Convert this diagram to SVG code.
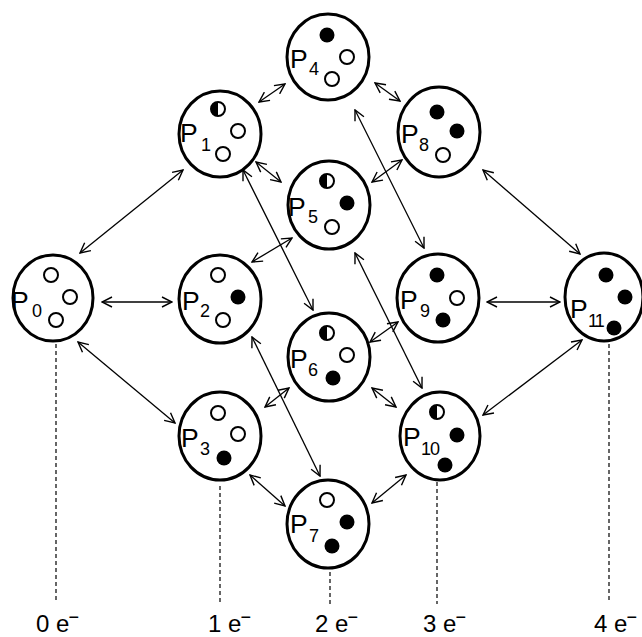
<svg xmlns="http://www.w3.org/2000/svg" width="642" height="637" viewBox="0 0 642 637">
<style>
.node{fill:#fff;stroke:#000;stroke-width:3}
.o{fill:#fff;stroke:#000;stroke-width:2}
.f{fill:#000}
.h{fill:#000}
.p{font-family:"Liberation Sans",Arial,sans-serif;font-size:26.5px;fill:#000}
.s{font-family:"Liberation Sans",Arial,sans-serif;font-size:18px;fill:#000}
.lbl{font-family:"Liberation Sans",Arial,sans-serif;font-size:24px;fill:#000}
.c line{stroke:#000;stroke-width:1.3;marker-start:url(#ah);marker-end:url(#ah)}
.d line{stroke:#000;stroke-width:1.2;stroke-dasharray:4 3}
</style>
<defs>
<marker id="ah" viewBox="0 0 12 12" refX="11" refY="6" markerUnits="userSpaceOnUse" markerWidth="12" markerHeight="12" orient="auto-start-reverse">
<path d="M1,1 L11,6 L1,11" fill="none" stroke="#000" stroke-width="1.4"/>
</marker>
</defs>
<rect width="642" height="637" fill="#fff"/>
<g id="connectors" class="c">
<line x1="80" y1="253" x2="183" y2="170"/>
<line x1="102" y1="302" x2="172" y2="302"/>
<line x1="78" y1="342" x2="175" y2="423"/>
<line x1="259" y1="102" x2="285" y2="84"/>
<line x1="256" y1="162" x2="281" y2="182"/>
<line x1="243" y1="170" x2="313" y2="310"/>
<line x1="252" y1="262" x2="292" y2="238"/>
<line x1="252" y1="337" x2="320" y2="476"/>
<line x1="265" y1="407" x2="289" y2="388"/>
<line x1="250" y1="475" x2="285" y2="506"/>
<line x1="375" y1="83" x2="400" y2="101"/>
<line x1="355" y1="110" x2="424" y2="248"/>
<line x1="372" y1="182" x2="402" y2="160"/>
<line x1="355" y1="253" x2="422" y2="388"/>
<line x1="370" y1="342" x2="398" y2="322"/>
<line x1="372" y1="388" x2="396" y2="407"/>
<line x1="372" y1="503" x2="406" y2="475"/>
<line x1="483" y1="170" x2="580" y2="254"/>
<line x1="487" y1="302" x2="560" y2="302"/>
<line x1="483" y1="415" x2="582" y2="340"/>
</g>
<g id="guides" class="d">
<line x1="56" y1="344" x2="56" y2="602"/>
<line x1="220" y1="486" x2="220" y2="604"/>
<line x1="330" y1="572" x2="330" y2="604"/>
<line x1="437" y1="482" x2="437" y2="604"/>
<line x1="609" y1="344" x2="609" y2="602"/>
</g>
<g id="P0">
<ellipse class="node" cx="53" cy="298" rx="40" ry="43"/>
<circle class="o" cx="51" cy="275" r="7"/><circle class="o" cx="70" cy="297" r="7"/><circle class="o" cx="56" cy="320" r="7"/>
<text class="p" x="11" y="310">P</text><text class="s" x="32" y="317">0</text>
</g>
<g id="P1">
<ellipse class="node" cx="220" cy="134" rx="41" ry="43"/>
<circle class="o" cx="218" cy="109" r="7"/><path class="h" d="M218,102 A7,7 0 0 0 218,116 Z"/>
<circle class="o" cx="238" cy="131" r="7"/><circle class="o" cx="223" cy="154" r="7"/>
<text class="p" x="180" y="142">P</text><text class="s" x="201" y="151">1</text>
</g>
<g id="P2">
<ellipse class="node" cx="220" cy="299" rx="41" ry="44"/>
<circle class="o" cx="218" cy="275" r="7"/><circle class="f" cx="238" cy="297" r="7.5"/><circle class="o" cx="223" cy="320" r="7"/>
<text class="p" x="182" y="310">P</text><text class="s" x="200" y="317">2</text>
</g>
<g id="P3">
<ellipse class="node" cx="220" cy="436" rx="41" ry="44"/>
<circle class="o" cx="218" cy="413" r="7"/><circle class="o" cx="238" cy="434" r="7"/><circle class="f" cx="224" cy="458" r="7.5"/>
<text class="p" x="181" y="447">P</text><text class="s" x="200" y="455">3</text>
</g>
<g id="P4">
<ellipse class="node" cx="328" cy="57" rx="41" ry="43"/>
<circle class="f" cx="327" cy="35" r="7.5"/><circle class="o" cx="347" cy="57" r="7"/><circle class="o" cx="332" cy="79" r="7"/>
<text class="p" x="290" y="68">P</text><text class="s" x="309" y="75">4</text>
</g>
<g id="P5">
<ellipse class="node" cx="329" cy="205" rx="41" ry="44"/>
<circle class="o" cx="327" cy="181" r="7"/><path class="h" d="M327,174 A7,7 0 0 0 327,188 Z"/>
<circle class="f" cx="347" cy="203" r="7.5"/><circle class="o" cx="332" cy="227" r="7"/>
<text class="p" x="288" y="216">P</text><text class="s" x="308" y="223">5</text>
</g>
<g id="P6">
<ellipse class="node" cx="329" cy="357" rx="41" ry="44"/>
<circle class="o" cx="327" cy="333" r="7"/><path class="h" d="M327,326 A7,7 0 0 0 327,340 Z"/>
<circle class="o" cx="347" cy="355" r="7"/><circle class="f" cx="333" cy="378" r="7.5"/>
<text class="p" x="290" y="368">P</text><text class="s" x="308" y="376">6</text>
</g>
<g id="P7">
<ellipse class="node" cx="328" cy="524" rx="41" ry="44"/>
<circle class="o" cx="327" cy="500" r="7"/><circle class="f" cx="347" cy="522" r="7.5"/><circle class="f" cx="332" cy="546" r="7.5"/>
<text class="p" x="290" y="533">P</text><text class="s" x="309" y="542">7</text>
</g>
<g id="P8">
<ellipse class="node" cx="439" cy="132" rx="41" ry="45"/>
<circle class="f" cx="437" cy="112" r="7.5"/><circle class="f" cx="457" cy="131" r="7.5"/><circle class="o" cx="443" cy="155" r="7"/>
<text class="p" x="401" y="143">P</text><text class="s" x="419" y="151">8</text>
</g>
<g id="P9">
<ellipse class="node" cx="438" cy="298" rx="41" ry="44"/>
<circle class="f" cx="437" cy="275" r="7.5"/><circle class="o" cx="457" cy="298" r="7"/><circle class="f" cx="443" cy="320" r="7.5"/>
<text class="p" x="400" y="309">P</text><text class="s" x="420" y="317">9</text>
</g>
<g id="P10">
<ellipse class="node" cx="440" cy="436" rx="40" ry="44"/>
<circle class="o" cx="437" cy="412" r="7"/><path class="h" d="M437,405 A7,7 0 0 0 437,419 Z"/>
<circle class="f" cx="457" cy="435" r="7.5"/><circle class="f" cx="445" cy="465" r="7.5"/>
<text class="p" x="403" y="446">P</text><text class="s" x="421" y="455" letter-spacing="-1">10</text>
</g>
<g id="P11">
<ellipse class="node" cx="604" cy="297" rx="39" ry="44"/>
<circle class="f" cx="606" cy="275" r="7.5"/><circle class="f" cx="625" cy="297" r="7.5"/><circle class="f" cx="614" cy="328" r="7.5"/>
<text class="p" x="570" y="318">P</text><text class="s" x="588" y="327" letter-spacing="-2">11</text>
</g>
<g id="labels">
<text class="lbl" x="36" y="632">0 e<tspan dx="-1" dy="-9" font-size="18">−</tspan></text>
<text class="lbl" x="208" y="632">1 e<tspan dx="-1" dy="-9" font-size="18">−</tspan></text>
<text class="lbl" x="315" y="632">2 e<tspan dx="-1" dy="-9" font-size="18">−</tspan></text>
<text class="lbl" x="423" y="632">3 e<tspan dx="-1" dy="-9" font-size="18">−</tspan></text>
<text class="lbl" x="594" y="632">4 e<tspan dx="-1" dy="-9" font-size="18">−</tspan></text>
</g>
</svg>
